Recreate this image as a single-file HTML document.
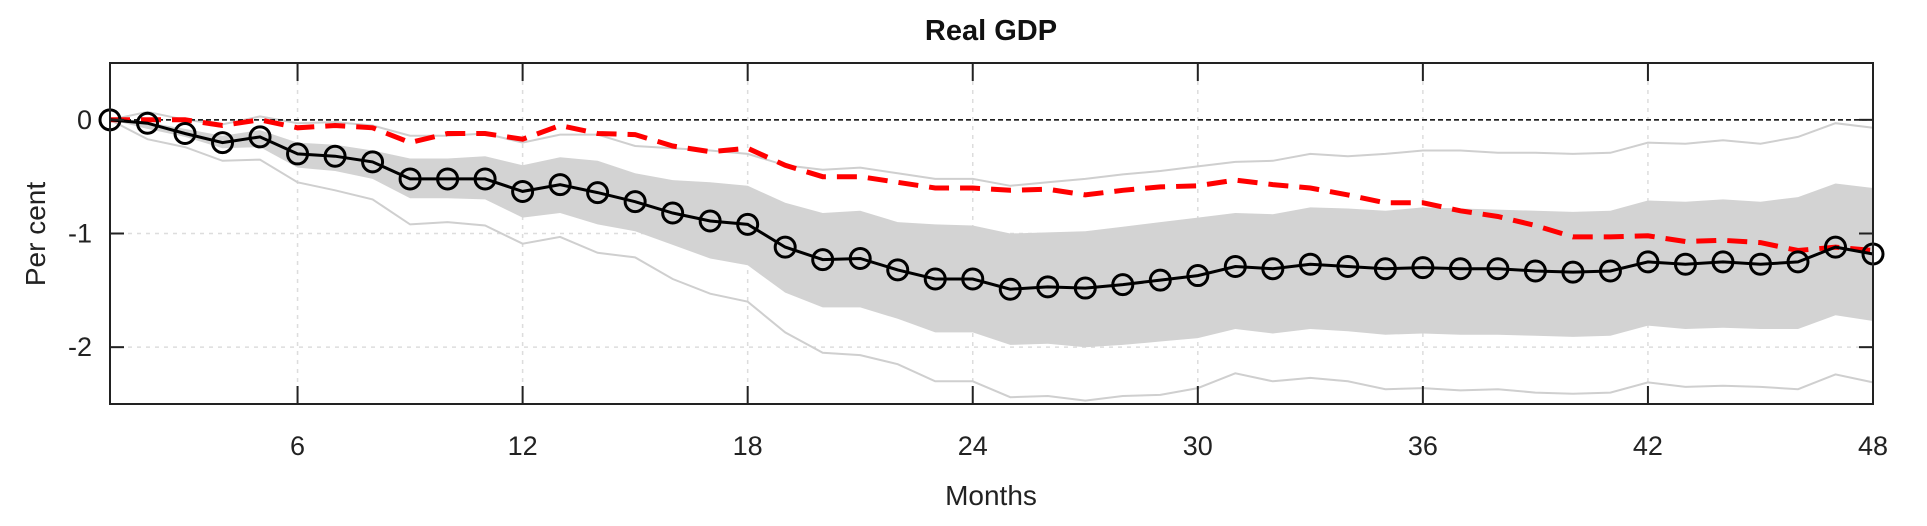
<!DOCTYPE html>
<html><head><meta charset="utf-8"><style>
html,body{margin:0;padding:0;background:#fff;}
svg{display:block;font-family:"Liberation Sans",Arial,sans-serif;}
</style></head><body>
<svg id="chart" width="1927" height="526" viewBox="0 0 1927 526">
<text x="991" y="40" text-anchor="middle" font-size="29" font-weight="bold" fill="#111">Real GDP</text>
<text transform="translate(45,234) rotate(-90)" text-anchor="middle" font-size="28" fill="#222">Per cent</text>
<text x="991" y="505" text-anchor="middle" font-size="28" fill="#222">Months</text>
<g id="grid"></g>
<g id="marks"></g>
<g id="axes"></g>
</svg>
<script>
const months = Array.from({length:48},(_,i)=>i+1);
const xTicks = [6,12,18,24,30,36,42,48];
const yTicks = [0,-1,-2];
const median = [0,-0.03,-0.12,-0.2,-0.15,-0.3,-0.32,-0.37,-0.52,-0.52,-0.52,-0.63,-0.57,-0.64,-0.72,-0.82,-0.89,-0.92,-1.12,-1.23,-1.22,-1.32,-1.4,-1.4,-1.49,-1.47,-1.48,-1.45,-1.41,-1.37,-1.29,-1.31,-1.27,-1.29,-1.31,-1.3,-1.31,-1.31,-1.33,-1.34,-1.33,-1.25,-1.27,-1.25,-1.27,-1.25,-1.12,-1.18];
const redLine = [0,0,0,-0.05,0,-0.07,-0.05,-0.07,-0.2,-0.12,-0.12,-0.17,-0.05,-0.12,-0.13,-0.23,-0.28,-0.25,-0.4,-0.5,-0.5,-0.55,-0.6,-0.6,-0.62,-0.61,-0.66,-0.62,-0.59,-0.58,-0.53,-0.57,-0.6,-0.66,-0.73,-0.73,-0.8,-0.85,-0.93,-1.03,-1.03,-1.02,-1.07,-1.06,-1.08,-1.15,-1.12,-1.15];
const bandUpper = [0,-0.02,-0.08,-0.14,-0.09,-0.2,-0.22,-0.27,-0.34,-0.34,-0.32,-0.4,-0.33,-0.36,-0.47,-0.53,-0.55,-0.58,-0.73,-0.82,-0.8,-0.9,-0.92,-0.93,-1.0,-0.99,-0.98,-0.94,-0.9,-0.86,-0.82,-0.83,-0.77,-0.78,-0.8,-0.77,-0.78,-0.79,-0.8,-0.81,-0.8,-0.71,-0.72,-0.7,-0.72,-0.68,-0.56,-0.6];
const bandLower = [0,-0.08,-0.15,-0.25,-0.24,-0.42,-0.45,-0.52,-0.69,-0.69,-0.7,-0.86,-0.82,-0.92,-0.98,-1.1,-1.22,-1.28,-1.52,-1.65,-1.65,-1.75,-1.87,-1.87,-1.98,-1.97,-2.0,-1.98,-1.95,-1.92,-1.84,-1.88,-1.84,-1.86,-1.89,-1.88,-1.89,-1.89,-1.9,-1.91,-1.9,-1.81,-1.84,-1.83,-1.84,-1.84,-1.72,-1.77];
const outerUpper = [0,0.07,0,-0.04,0.03,-0.03,-0.02,-0.05,-0.14,-0.14,-0.12,-0.2,-0.13,-0.13,-0.23,-0.25,-0.27,-0.3,-0.4,-0.44,-0.42,-0.47,-0.52,-0.52,-0.58,-0.55,-0.52,-0.48,-0.45,-0.41,-0.37,-0.36,-0.3,-0.32,-0.3,-0.27,-0.27,-0.29,-0.29,-0.3,-0.29,-0.2,-0.21,-0.18,-0.21,-0.15,-0.03,-0.07];
const outerLower = [0,-0.17,-0.24,-0.36,-0.35,-0.55,-0.62,-0.7,-0.92,-0.9,-0.93,-1.09,-1.03,-1.17,-1.21,-1.4,-1.53,-1.6,-1.87,-2.05,-2.07,-2.15,-2.3,-2.3,-2.44,-2.43,-2.47,-2.43,-2.42,-2.36,-2.23,-2.3,-2.27,-2.3,-2.37,-2.36,-2.38,-2.37,-2.4,-2.41,-2.4,-2.31,-2.35,-2.34,-2.35,-2.37,-2.24,-2.31];

const L=110,R=1873,T=63,B=404,XMIN=1,XMAX=48,YMIN=-2.5,YMAX=0.5;
const sx=v=>L+(v-XMIN)/(XMAX-XMIN)*(R-L);
const sy=v=>B-(v-YMIN)/(YMAX-YMIN)*(B-T);
const NS="http://www.w3.org/2000/svg";
function mk(tag,attrs,parent){const e=document.createElementNS(NS,tag);for(const k in attrs)e.setAttribute(k,attrs[k]);parent.appendChild(e);return e;}
const grid=document.getElementById('grid'),marks=document.getElementById('marks'),axes=document.getElementById('axes');
const pts=(arr)=>arr.map((v,i)=>sx(months[i]).toFixed(1)+','+sy(v).toFixed(1)).join(' ');

xTicks.forEach(t=>{const g=mk('line',{x1:sx(t),x2:sx(t),y1:T,y2:B,stroke:'#ddd','stroke-width':1.5,'stroke-dasharray':'4,5'},grid);

});
yTicks.forEach(t=>{if(t===0)return;const g=mk('line',{x1:L,x2:R,y1:sy(t),y2:sy(t),stroke:'#ddd','stroke-width':1.5,'stroke-dasharray':'4,5'},grid);

});

const band=mk('polygon',{points:pts(bandUpper)+' '+bandLower.map((v,i)=>[sx(months[i]),sy(v)]).reverse().map(p=>p[0].toFixed(1)+','+p[1].toFixed(1)).join(' '),fill:'#d3d3d3'},marks);


const ou=mk('polyline',{points:pts(outerUpper),fill:'none',stroke:'#cfcfcf','stroke-width':2},marks);


const ol=mk('polyline',{points:pts(outerLower),fill:'none',stroke:'#cfcfcf','stroke-width':2},marks);


const zl=mk('line',{x1:L,x2:R,y1:sy(0),y2:sy(0),stroke:'#000','stroke-width':1.5,'stroke-dasharray':'5,3'},marks);


const rl=mk('polyline',{points:pts(redLine),fill:'none',stroke:'#ff0000','stroke-width':5,'stroke-dasharray':'20,11'},marks);


const ml=mk('polyline',{points:pts(median),fill:'none',stroke:'#000','stroke-width':3},marks);


median.forEach((v,i)=>{const c=mk('ellipse',{cx:sx(months[i]),cy:sy(v),rx:10,ry:10,fill:'none',stroke:'#000','stroke-width':3},marks);

});

const fr=mk('rect',{x:L,y:T,width:R-L,height:B-T,fill:'none',stroke:'#222','stroke-width':2},axes);


xTicks.forEach(t=>{
 mk('line',{x1:sx(t),x2:sx(t),y1:B,y2:B-18,stroke:'#222','stroke-width':2},axes);
 mk('line',{x1:sx(t),x2:sx(t),y1:T,y2:T+18,stroke:'#222','stroke-width':2},axes);
 const tx=mk('text',{x:sx(t),y:455,'text-anchor':'middle','font-size':27,fill:'#222'},axes);tx.textContent=t;
 
 
});
yTicks.forEach(t=>{
 mk('line',{x1:L,x2:L+14,y1:sy(t),y2:sy(t),stroke:'#222','stroke-width':2},axes);
 mk('line',{x1:R,x2:R-14,y1:sy(t),y2:sy(t),stroke:'#222','stroke-width':2},axes);
 const tx=mk('text',{x:L-18,y:sy(t)+9,'text-anchor':'end','font-size':27,fill:'#222'},axes);tx.textContent=t;
 
 
});
</script>
</body></html>
